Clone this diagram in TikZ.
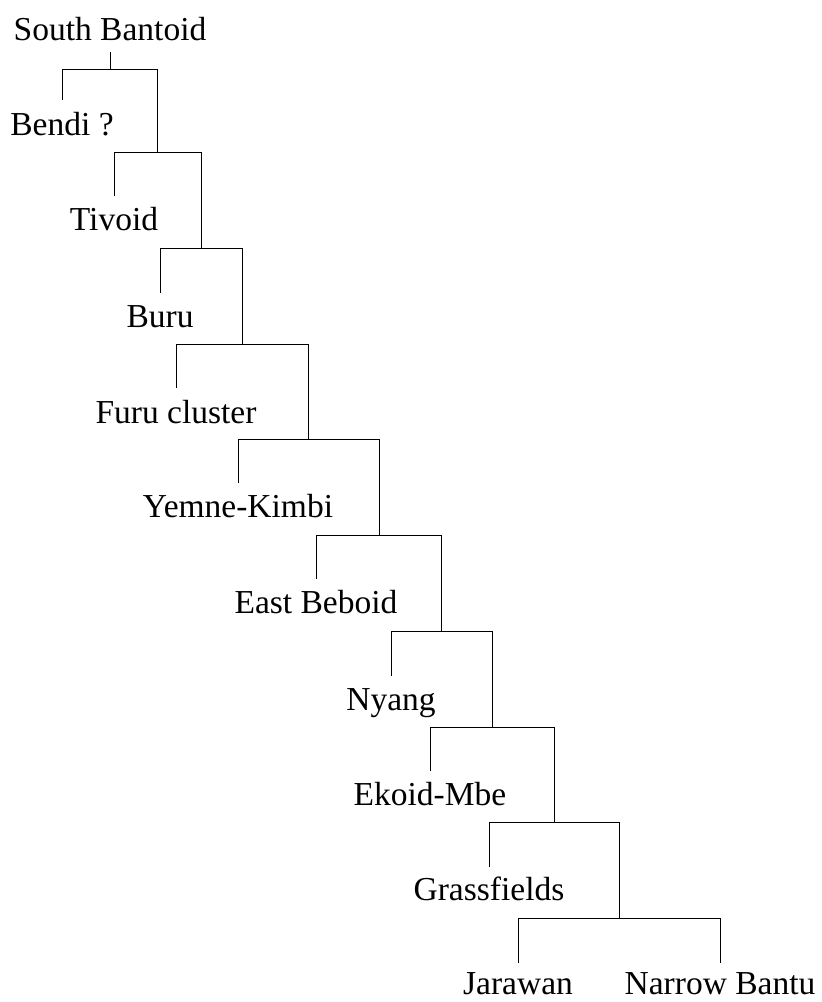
\documentclass[tikz,border=0pt]{standalone}
\usepackage{fontspec}
\setmainfont{Liberation Serif}
\begin{document}
\begin{tikzpicture}[x=1pt,y=-1pt,
  lbl/.style={anchor=base,inner sep=0pt,font=\fontsize{33.5}{40}\selectfont},
  branch/.style={line width=1pt,line cap=rect}]
\useasboundingbox (0,0) rectangle (822,1002);
% root
\node[lbl] (root) at (110,40) {South Bantoid};
\coordinate (s0) at (110,52);
% levels: junction j, left end l, right end r, leaf leg end t, leaf label n
\coordinate (j1) at (110,69);  \coordinate (l1) at (62,69);  \coordinate (r1) at (157,69);
\coordinate (t1) at (62,99);   \node[lbl] (n1) at (62,135) {Bendi ?};
\coordinate (j2) at (157,152); \coordinate (l2) at (114,152); \coordinate (r2) at (201,152);
\coordinate (t2) at (114,195); \node[lbl] (n2) at (114,230) {Tivoid};
\coordinate (j3) at (201,248); \coordinate (l3) at (160,248); \coordinate (r3) at (242,248);
\coordinate (t3) at (160,292); \node[lbl] (n3) at (160,327) {Buru};
\coordinate (j4) at (242,344); \coordinate (l4) at (176,344); \coordinate (r4) at (308,344);
\coordinate (t4) at (176,387); \node[lbl] (n4) at (176,423) {Furu cluster};
\coordinate (j5) at (308,439); \coordinate (l5) at (238,439); \coordinate (r5) at (379,439);
\coordinate (t5) at (238,482); \node[lbl] (n5) at (238,517) {Yemne-Kimbi};
\coordinate (j6) at (379,535); \coordinate (l6) at (316,535); \coordinate (r6) at (441,535);
\coordinate (t6) at (316,578); \node[lbl] (n6) at (316,613) {East Beboid};
\coordinate (j7) at (441,631); \coordinate (l7) at (391,631); \coordinate (r7) at (492,631);
\coordinate (t7) at (391,675); \node[lbl] (n7) at (391,710) {Nyang};
\coordinate (j8) at (492,727); \coordinate (l8) at (430,727); \coordinate (r8) at (554,727);
\coordinate (t8) at (430,770); \node[lbl] (n8) at (430,805) {Ekoid-Mbe};
\coordinate (j9) at (554,822); \coordinate (l9) at (489,822); \coordinate (r9) at (619,822);
\coordinate (t9) at (489,866); \node[lbl] (n9) at (489,900) {Grassfields};
\coordinate (j10) at (619,918); \coordinate (l10) at (518,918); \coordinate (r10) at (720,918);
\coordinate (t10) at (518,962); \node[lbl] (n10) at (518,994) {Jarawan};
\coordinate (u10) at (720,962); \node[lbl] (n11) at (720,994) {Narrow Bantu};
% branches
\draw[branch] (s0) -- (j1);
\draw[branch] (t1) -- (l1) -- (r1) -- (j2);
\draw[branch] (t2) -- (l2) -- (r2) -- (j3);
\draw[branch] (t3) -- (l3) -- (r3) -- (j4);
\draw[branch] (t4) -- (l4) -- (r4) -- (j5);
\draw[branch] (t5) -- (l5) -- (r5) -- (j6);
\draw[branch] (t6) -- (l6) -- (r6) -- (j7);
\draw[branch] (t7) -- (l7) -- (r7) -- (j8);
\draw[branch] (t8) -- (l8) -- (r8) -- (j9);
\draw[branch] (t9) -- (l9) -- (r9) -- (j10);
\draw[branch] (t10) -- (l10) -- (r10) -- (u10);
\end{tikzpicture}
\end{document}
